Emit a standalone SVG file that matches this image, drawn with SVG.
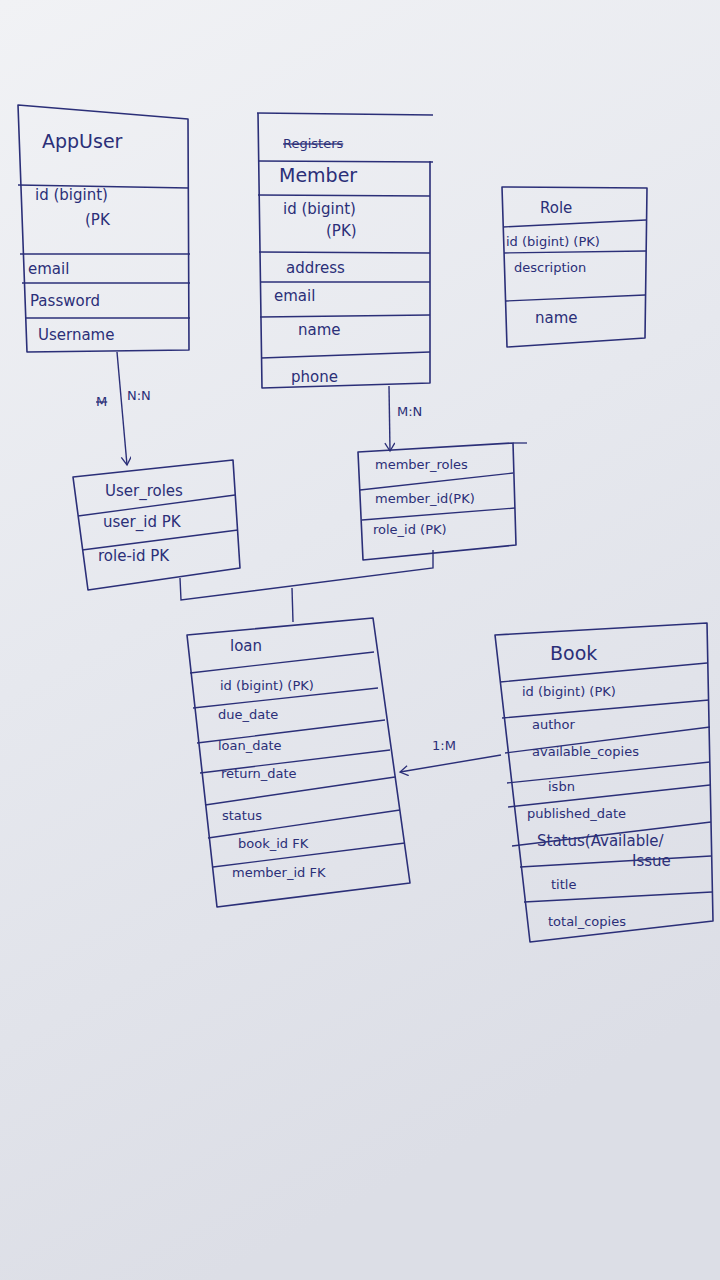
<svg xmlns="http://www.w3.org/2000/svg" width="720" height="1280" viewBox="0 0 720 1280">
<defs>
<linearGradient id="paper" x1="0" y1="0" x2="0.3" y2="1">
<stop offset="0" stop-color="#f1f2f5"/>
<stop offset="0.5" stop-color="#e6e8ee"/>
<stop offset="1" stop-color="#dcdee6"/>
</linearGradient>
<marker id="arr" markerWidth="12" markerHeight="12" refX="9" refY="5" orient="auto" markerUnits="userSpaceOnUse">
<path d="M1,0 L9,5 L1,10" fill="none" stroke="#2b2f78" stroke-width="1.3"/>
</marker>
<style>
.box{fill:none;stroke:#2b2f78;stroke-width:1.6;stroke-linejoin:round}
.ln{stroke:#2b2f78;stroke-width:1.3}
.t{font-family:"DejaVu Sans","Liberation Sans",sans-serif;fill:#2b2f78;font-size:15px}
.h{font-size:19px}
.s{font-size:13px}
.con{fill:none;stroke:#2b2f78;stroke-width:1.4}
</style>
</defs>
<rect width="720" height="1280" fill="url(#paper)"/>

<g id="AppUser">
<polygon class="box" points="18,105 188,119 189,350 27,352"/>
<line class="ln" x1="18" y1="185" x2="189" y2="188"/>
<line class="ln" x1="20" y1="254" x2="190" y2="254"/>
<line class="ln" x1="22" y1="283" x2="190" y2="283"/>
<line class="ln" x1="25" y1="318" x2="190" y2="318"/>
<text class="t h" x="42" y="148">AppUser</text>
<text class="t" x="35" y="200">id (bigint)</text>
<text class="t" x="85" y="225">(PK</text>
<text class="t" x="28" y="274">email</text>
<text class="t" x="30" y="306">Password</text>
<text class="t" x="38" y="340">Username</text>
</g>

<g id="Member">
<line class="ln" x1="257" y1="113" x2="433" y2="115"/>
<polyline class="box" points="258,113 262,388 430,383 430,161"/>
<line class="ln" x1="258" y1="161" x2="433" y2="162"/>
<line class="ln" x1="258" y1="195" x2="430" y2="196"/>
<line class="ln" x1="259" y1="252" x2="430" y2="253"/>
<line class="ln" x1="260" y1="282" x2="430" y2="282"/>
<line class="ln" x1="260" y1="317" x2="430" y2="315"/>
<line class="ln" x1="261" y1="358" x2="430" y2="352"/>
<text class="t s" x="283" y="148" text-decoration="line-through">Registers</text>
<text class="t h" x="279" y="182">Member</text>
<text class="t" x="283" y="214">id  (bigint)</text>
<text class="t" x="326" y="236">(PK)</text>
<text class="t" x="286" y="273">address</text>
<text class="t" x="274" y="301">email</text>
<text class="t" x="298" y="335">name</text>
<text class="t" x="291" y="382">phone</text>
</g>

<g id="Role">
<polygon class="box" points="502,187 647,188 645,338 507,347"/>
<line class="ln" x1="503" y1="227" x2="646" y2="220"/>
<line class="ln" x1="504" y1="253" x2="646" y2="251"/>
<line class="ln" x1="506" y1="301" x2="645" y2="295"/>
<text class="t" x="540" y="213">Role</text>
<text class="t s" x="506" y="246">id (bigint) (PK)</text>
<text class="t s" x="514" y="272">description</text>
<text class="t" x="535" y="323">name</text>
</g>

<g id="user_roles">
<polygon class="box" points="73,477 233,460 240,568 88,590"/>
<line class="ln" x1="78" y1="516" x2="235" y2="495"/>
<line class="ln" x1="82" y1="550" x2="238" y2="530"/>
<text class="t" x="105" y="496">User_roles</text>
<text class="t" x="103" y="527">user_id PK</text>
<text class="t" x="98" y="561">role-id PK</text>
</g>

<g id="member_roles">
<polygon class="box" points="358,452 513,443 516,545 363,560"/>
<line class="ln" x1="513" y1="443" x2="527" y2="443"/>
<line class="ln" x1="360" y1="490" x2="513" y2="473"/>
<line class="ln" x1="362" y1="520" x2="515" y2="508"/>
<text class="t s" x="375" y="469">member_roles</text>
<text class="t s" x="375" y="503">member_id(PK)</text>
<text class="t s" x="373" y="534">role_id (PK)</text>
</g>

<g id="Loan">
<polygon class="box" points="187,635 373,618 410,883 217,907"/>
<line class="ln" x1="190" y1="673" x2="374" y2="652"/>
<line class="ln" x1="193" y1="708" x2="378" y2="688"/>
<line class="ln" x1="197" y1="743" x2="385" y2="720"/>
<line class="ln" x1="200" y1="773" x2="390" y2="750"/>
<line class="ln" x1="205" y1="805" x2="395" y2="777"/>
<line class="ln" x1="208" y1="838" x2="400" y2="810"/>
<line class="ln" x1="213" y1="867" x2="405" y2="843"/>
<text class="t" x="230" y="651">loan</text>
<text class="t s" x="220" y="690">id (bigint) (PK)</text>
<text class="t s" x="218" y="719">due_date</text>
<text class="t s" x="218" y="750">loan_date</text>
<text class="t s" x="221" y="778">return_date</text>
<text class="t s" x="222" y="820">status</text>
<text class="t s" x="238" y="848">book_id FK</text>
<text class="t s" x="232" y="877">member_id FK</text>
</g>

<g id="Book">
<polygon class="box" points="495,635 707,623 713,921 530,942"/>
<line class="ln" x1="500" y1="682" x2="707" y2="663"/>
<line class="ln" x1="502" y1="718" x2="709" y2="700"/>
<line class="ln" x1="505" y1="753" x2="710" y2="727"/>
<line class="ln" x1="507" y1="783" x2="710" y2="762"/>
<line class="ln" x1="508" y1="807" x2="710" y2="785"/>
<line class="ln" x1="512" y1="846" x2="711" y2="822"/>
<line class="ln" x1="520" y1="867" x2="711" y2="856"/>
<line class="ln" x1="524" y1="902" x2="712" y2="892"/>
<text class="t" x="537" y="846" font-size="12">Status(Available/</text>
<text class="t" x="632" y="866" font-size="9">Issue</text>
<text class="t h" x="550" y="660">Book</text>
<text class="t s" x="522" y="696">id (bigint) (PK)</text>
<text class="t s" x="532" y="729">author</text>
<text class="t s" x="532" y="756">available_copies</text>
<text class="t s" x="548" y="791">isbn</text>
<text class="t s" x="527" y="818">published_date</text>
<text class="t s" x="551" y="889">title</text>
<text class="t s" x="548" y="926">total_copies</text>
</g>

<g id="connectors">
<line class="con" x1="117" y1="352" x2="127" y2="465" marker-end="url(#arr)"/>
<text class="t s" x="96" y="406" text-decoration="line-through">M</text>
<text class="t s" x="127" y="400">N:N</text>
<line class="con" x1="389" y1="386" x2="390" y2="451" marker-end="url(#arr)"/>
<text class="t s" x="397" y="416">M:N</text>
<polyline class="con" points="180,578 181,600 433,568 433,550"/>
<line class="con" x1="292" y1="588" x2="293" y2="622"/>
<line class="con" x1="501" y1="755" x2="400" y2="772" marker-end="url(#arr)"/>
<text class="t s" x="432" y="750">1:M</text>
</g>
</svg>
